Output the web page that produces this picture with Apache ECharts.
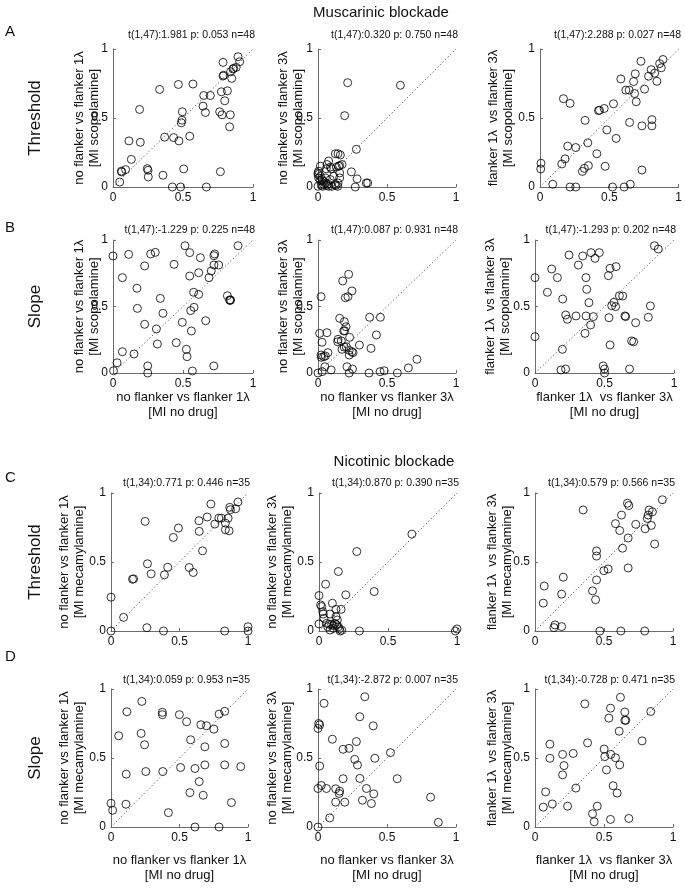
<!DOCTYPE html>
<html><head><meta charset="utf-8">
<script src="https://cdn.jsdelivr.net/npm/echarts@6/dist/echarts.min.js"></script>
<style>html,body{margin:0;padding:0;background:#fff}#c{width:685px;height:890px}</style>
</head><body><div id="c"></div>
<script>
// ---------- DATA ----------
const muscThr1 = [[0.048,0.036],[0.062,0.109],[0.09,0.126],[0.131,0.2],[0.114,0.334],[0.195,0.324],[0.19,0.562],[0.245,0.133],[0.25,0.121],[0.252,0.073],[0.333,0.707],[0.357,0.085],[0.369,0.361],[0.433,0.358],[0.467,0.743],[0.471,0.334],[0.488,0.465],[0.493,0.484],[0.495,0.545],[0.505,0.131],[0.424,0],[0.483,0],[0.571,0.746],[0.548,0.368],[0.643,0.586],[0.648,0.663],[0.66,0.54],[0.667,0],[0.695,0.663],[0.762,0.545],[0.774,0.69],[0.767,0.111],[0.779,0.523],[0.786,0.903],[0.786,0.804],[0.79,0.81],[0.798,0.625],[0.817,0.697],[0.833,0.436],[0.838,0.523],[0.84,0.835],[0.848,0.787],[0.857,0.855],[0.88,0.867],[0.893,0.944],[0.905,0.908],[0.862,0.86],[0.06,0.115]];
const muscThr2 = [[0.215,0.756],[0.597,0.737],[0.193,0.517],[0.278,0.273],[0.126,0.241],[0.145,0.241],[0.162,0.232],[0.017,0.151],[0.077,0.188],[0.065,0.163],[0.097,0.132],[0.06,0.132],[0.15,0.151],[0.157,0.156],[0.133,0.144],[0.242,0.11],[0,0.102],[0,0.09],[0.005,0.066],[0.017,0.046],[0.041,0.041],[0.058,0.029],[0.114,0.078],[0.157,0.066],[0.283,0.059],[0.35,0.029],[0.36,0.029],[0.27,0],[0,0.005],[0.024,0.012],[0.041,0.017],[0.065,0.012],[0.077,0.005],[0.101,0.005],[0.121,0.017],[0.13,0.012],[0.143,0.005],[0.145,0.029],[0.005,0.115],[0.029,0.054],[0.09,0.144],[0.07,0.022],[0.157,0.102],[0.017,0.078],[0.053,0.066],[0.034,0.005],[0.089,0.054],[0.174,0.163]];
const muscThr3 = [[0.007,0.172],[0.005,0.131],[0.092,0.02],[0.217,0],[0.258,0],[0.523,0],[0.607,0],[0.651,0.02],[0.169,0.64],[0.217,0.606],[0.157,0.167],[0.181,0.204],[0.2,0.296],[0.258,0.286],[0.306,0.113],[0.32,0.135],[0.349,0.155],[0.325,0.483],[0.345,0.32],[0.41,0.241],[0.422,0.554],[0.429,0.556],[0.463,0.569],[0.47,0.15],[0.482,0.414],[0.53,0.603],[0.549,0.352],[0.583,0.783],[0.619,0.702],[0.643,0.702],[0.646,0.468],[0.675,0.764],[0.687,0.82],[0.682,0.677],[0.694,0.618],[0.728,0.911],[0.735,0.443],[0.735,0.123],[0.754,0.709],[0.783,0.803],[0.802,0.85],[0.807,0.488],[0.807,0.443],[0.827,0.825],[0.843,0.766],[0.863,0.894],[0.875,0.864],[0.887,0.924]];
const muscSlope1 = [[0,0.88],[0.112,0.892],[0.269,0.895],[0.302,0.907],[0.226,0.805],[0.436,0.817],[0.514,0.957],[0.548,0.905],[0.624,0.867],[0.726,0.895],[0.721,0.882],[0.893,0.957],[0.067,0.717],[0.548,0.729],[0.612,0.754],[0.686,0.717],[0.702,0.767],[0.721,0.812],[0.755,0.812],[0.171,0.637],[0.338,0.561],[0.576,0.607],[0.612,0.591],[0.817,0.581],[0.833,0.549],[0.84,0.549],[0.174,0.486],[0.357,0.449],[0.555,0.469],[0.579,0.494],[0.226,0.366],[0.31,0.331],[0.495,0.381],[0.56,0.316],[0.662,0.393],[0.317,0.218],[0.452,0.228],[0.524,0.178],[0.529,0.123],[0.067,0.16],[0.15,0.143],[0.004,0.017],[0.029,0.077],[0.248,0.053],[0.248,0],[0.567,0.015],[0.72,0.053],[0.836,0.545]];
const muscSlope2 = [[0.222,0.742],[0.179,0.692],[0.246,0.617],[0.198,0.566],[0.217,0.574],[0.022,0.574],[0.157,0.411],[0.191,0.386],[0.203,0.348],[0.186,0.316],[0.193,0.318],[0.374,0.419],[0.452,0.419],[0.012,0.298],[0.065,0.303],[0.029,0.231],[0.145,0.253],[0.169,0.241],[0.229,0.268],[0.423,0.286],[0.205,0.198],[0.174,0.178],[0.246,0.16],[0.3,0.21],[0.384,0.185],[0.254,0.153],[0.072,0.153],[0.053,0.128],[0.024,0.118],[0.041,0.123],[0.717,0.103],[0.022,0.135],[0.05,0.047],[0.03,0.01],[0,0],[0.095,0.023],[0.143,0.235],[0.19,0.195],[0.226,0.135],[0.21,0.047],[0.226,0],[0.25,0.03],[0.226,0.17],[0.37,0],[0.45,0.01],[0.48,0.017],[0.575,0],[0.655,0.038]];
const muscSlope3 = [[0.859,0.957],[0.887,0.932],[0.245,0.887],[0.343,0.88],[0.403,0.905],[0.463,0.905],[0.432,0.862],[0.312,0.812],[0.12,0.782],[0,0.717],[0.161,0.717],[0.367,0.717],[0.54,0.787],[0.583,0.8],[0.528,0.732],[0.372,0.629],[0.089,0.607],[0.199,0.556],[0.388,0.529],[0.607,0.581],[0.631,0.579],[0.568,0.531],[0.552,0.506],[0.58,0.499],[0.83,0.504],[0.221,0.436],[0.233,0.404],[0.295,0.429],[0.367,0.429],[0.42,0.424],[0.532,0.416],[0.647,0.429],[0.652,0.424],[0.815,0.419],[0.724,0.378],[0.4,0.361],[0.36,0.298],[0,0.273],[0.695,0.241],[0.54,0.211],[0.197,0.178],[0.187,0.023],[0.22,0.03],[0.49,0.053],[0.5,0.03],[0.5,0],[0.68,0.03],[0.71,0.235]];
const nicThr1 = [[0,0.245],[0,0],[0.092,0.099],[0.157,0.375],[0.165,0.378],[0.262,0.024],[0.249,0.794],[0.266,0.487],[0.293,0.414],[0.383,0],[0.39,0.407],[0.414,0.462],[0.455,0.678],[0.492,0.746],[0.571,0.46],[0.6,0.424],[0.642,0.799],[0.644,0.722],[0.668,0.581],[0.702,0.826],[0.729,0.92],[0.758,0.775],[0.787,0.818],[0.806,0.818],[0.835,0.782],[0.835,0.734],[0.83,0],[0.855,0.818],[0.862,0.726],[0.867,0.896],[0.872,0.879],[0.91,0.886],[0.927,0.935],[1,0.031],[1,0]];
const nicThr2 = [[0.673,0.702],[0.274,0.576],[0.14,0.431],[0.048,0.339],[0.4,0.286],[0.194,0.262],[0,0.257],[0.019,0.177],[0.027,0.14],[0.031,0.123],[0.097,0.201],[0.08,0.123],[0.123,0.157],[0.16,0.157],[0.123,0.104],[0,0.051],[0.056,0.056],[0.075,0.048],[0.092,0.048],[0.104,0.039],[0.116,0.056],[0.128,0.044],[0.14,0.031],[0.148,0.015],[0.153,0],[0.08,0.007],[0.104,0.019],[0.063,0.031],[0.293,0],[0.988,0],[1,0.015],[0.133,0.08],[0.036,0.092],[0.165,0.005],[0.012,0.189]];
const nicThr3 = [[0.923,0.951],[0.349,0.877],[0.67,0.926],[0.68,0.909],[0.627,0.84],[0.827,0.877],[0.82,0.84],[0.814,0.815],[0.851,0.864],[0.583,0.778],[0.73,0.773],[0.614,0.728],[0.798,0.741],[0.843,0.765],[0.675,0.674],[0.867,0.63],[0.634,0.6],[0.446,0.58],[0.446,0.543],[0.53,0.449],[0.499,0.437],[0.675,0.457],[0.446,0.37],[0.417,0.291],[0.439,0.227],[0.205,0.39],[0.067,0.326],[0.193,0.267],[0.06,0.202],[0.145,0.044],[0.137,0.025],[0.193,0.032],[0.47,0],[0.622,0],[0.795,0]];
const nicSlope1 = [[0.225,0.91],[0.116,0.835],[0.375,0.831],[0.375,0.814],[0.499,0.814],[0.552,0.763],[0.789,0.818],[0.83,0.838],[0.656,0.741],[0.697,0.734],[0.751,0.709],[0.056,0.661],[0.22,0.678],[0.245,0.596],[0.581,0.632],[0.685,0.581],[0.83,0.605],[0.508,0.431],[0.613,0.424],[0.685,0.45],[0.83,0.45],[0.947,0.438],[0.254,0.402],[0.378,0.402],[0.111,0.383],[0.644,0.329],[0.576,0.249],[0.673,0.23],[0,0.172],[0.012,0.121],[0.109,0.165],[0.879,0.177],[0.419,0.104],[0.613,0],[0.789,0]];
const nicSlope2 = [[0.339,0.944],[0.044,0.896],[0.005,0.75],[0.012,0.74],[0,0.714],[0.303,0.799],[0.4,0.733],[0.104,0.636],[0.182,0.563],[0.225,0.57],[0.278,0.619],[0.266,0.49],[0.286,0.449],[0.412,0.498],[0.525,0.539],[0.012,0.442],[0.574,0.35],[0.024,0.301],[0,0.279],[0.061,0.279],[0.182,0.35],[0.303,0.352],[0.128,0.277],[0.157,0.26],[0.153,0.243],[0.351,0.279],[0.128,0.18],[0.194,0.18],[0.322,0.194],[0.387,0.17],[0.404,0.24],[0.085,0.066],[0,0],[0.816,0.216],[0.872,0.034]];
const nicSlope3 = [[0.619,0.94],[0.361,0.892],[0.547,0.861],[0.651,0.833],[0.535,0.789],[0.651,0.773],[0.658,0.773],[0.839,0.837],[0.61,0.694],[0.776,0.624],[0.381,0.61],[0.108,0.6],[0.501,0.565],[0.277,0.533],[0.2,0.526],[0.108,0.498],[0.506,0.51],[0.549,0.526],[0.583,0.502],[0.21,0.445],[0.614,0.45],[0.2,0.378],[0.518,0.414],[0.566,0.299],[0.595,0.246],[0.296,0.282],[0.077,0.254],[0.06,0.144],[0.125,0.167],[0.236,0.151],[0.451,0.151],[0.417,0.096],[0.429,0.038],[0.547,0.055],[0.68,0.062]];
const identityLine = [[0,0],[1,1]];
const tickValues = [0, 0.5, 1];

const statTitles = [
 't(1,47):1.981 p: 0.053 n=48','t(1,47):0.320 p: 0.750 n=48','t(1,47):2.288 p: 0.027 n=48',
 't(1,47):-1.229 p: 0.225 n=48','t(1,47):0.087 p: 0.931 n=48','t(1,47):-1.293 p: 0.202 n=48',
 't(1,34):0.771 p: 0.446 n=35','t(1,34):0.870 p: 0.390 n=35','t(1,34):0.579 p: 0.566 n=35',
 't(1,34):0.059 p: 0.953 n=35','t(1,34):-2.872 p: 0.007 n=35','t(1,34):-0.728 p: 0.471 n=35'];
const compLabels = ['no flanker vs flanker 1\u03bb','no flanker vs flanker 3\u03bb','flanker 1\u03bb  vs flanker 3\u03bb'];
const drugLabels = ['[MI scopolamine]','[MI scopolamine]','[MI mecamylamine]','[MI mecamylamine]'];
const noDrugLabel = '[MI no drug]';
const rowLetters = ['A','B','C','D'];
const rowMeasures = ['Threshold','Slope','Threshold','Slope'];
const sectionTitles = ['Muscarinic blockade','Nicotinic blockade'];

const panelData = [muscThr1,muscThr2,muscThr3,muscSlope1,muscSlope2,muscSlope3,nicThr1,nicThr2,nicThr3,nicSlope1,nicSlope2,nicSlope3];

// ---------- LAYOUT ----------
const gridBoxes = [
 [113,49,140,138],[318,49,138,138],[540,49,139,138],
 [113,240,140,133],[318,240,138,133],[535,240,139,133],
 [111,493,137,138],[319,493,138,138],[535,493,138,138],
 [111,689,137,138],[318,689,138,138],[535,689,138,138]];
const titleY = [35,230,483,680];
const ylabX = [[87,291,501],[87,291,498],[72,280,500],[72,280,500]];
const letterY = [32,228,478,657];
const xlabY = [null,405,null,868];

const FONT = '"Liberation Sans", Arial, sans-serif';
const axisCol = '#6b6b6b';

const grids=[], xAxes=[], yAxes=[], series=[], graphics=[];
gridBoxes.forEach((b,i)=>{
  grids.push({left:b[0], top:b[1], width:b[2], height:b[3], containLabel:false});
  const ax = {
    gridIndex:i, type:'value', min:tickValues[0], max:tickValues[2], interval:tickValues[1]-tickValues[0],
    axisLine:{show:true, onZero:false, lineStyle:{color:axisCol, width:1}},
    axisTick:{show:true, inside:true, length:3, lineStyle:{color:axisCol}},
    splitLine:{show:false},
    axisLabel:{color:'#111', fontSize:12, fontFamily:FONT}
  };
  xAxes.push(Object.assign({}, ax, {axisLabel:Object.assign({}, ax.axisLabel, {margin:5})}));
  yAxes.push(Object.assign({}, ax, {axisLabel:Object.assign({}, ax.axisLabel, {margin:5})}));
  series.push({type:'line', xAxisIndex:i, yAxisIndex:i, data:identityLine, symbol:'none', silent:true,
    lineStyle:{color:'#555', width:1, type:[1.2,2.4]}, z:1});
  series.push({type:'scatter', xAxisIndex:i, yAxisIndex:i, data:panelData[i], symbol:'circle', symbolSize:8,
    clip:false, itemStyle:{color:'rgba(0,0,0,0)', borderColor:'#000', borderWidth:1}, z:3});
  const row = Math.floor(i/3), col = i%3;
  graphics.push({type:'text', x:b[0]+b[2]+2, y:titleY[row],
    style:{text:statTitles[i], font:'10.5px '+FONT, fill:'#111', align:'right', verticalAlign:'middle'}});
  graphics.push({type:'text', x:ylabX[row][col], y:b[1]+b[3]/2, rotation:Math.PI/2,
    style:{text:compLabels[col]+'\n'+drugLabels[row], font:'13px '+FONT, fill:'#111', align:'center', verticalAlign:'middle', lineHeight:15}});
  if (xlabY[row]!==null) {
    graphics.push({type:'text', x:b[0]+b[2]/2, y:xlabY[row],
      style:{text:compLabels[col]+'\n'+noDrugLabel, font:'13px '+FONT, fill:'#111', align:'center', verticalAlign:'middle', lineHeight:15}});
  }
});
rowLetters.forEach((L,r)=>{
  graphics.push({type:'text', x:5, y:letterY[r], style:{text:L, font:'15px '+FONT, fill:'#111', align:'left', verticalAlign:'middle'}});
  const b = gridBoxes[r*3];
  graphics.push({type:'text', x:35, y:b[1]+b[3]/2, rotation:Math.PI/2,
    style:{text:rowMeasures[r], font:'17px '+FONT, fill:'#111', align:'center', verticalAlign:'middle'}});
});
graphics.push({type:'text', x:381, y:13, style:{text:sectionTitles[0], font:'15px '+FONT, fill:'#111', align:'center', verticalAlign:'middle'}});
graphics.push({type:'text', x:394, y:462, style:{text:sectionTitles[1], font:'15px '+FONT, fill:'#111', align:'center', verticalAlign:'middle'}});

const chart = echarts.init(document.getElementById('c'), null, {renderer:'canvas'});
chart.setOption({animation:false, backgroundColor:'#fff', grid:grids, xAxis:xAxes, yAxis:yAxes, series:series, graphic:{elements:graphics}});
</script></body></html>
